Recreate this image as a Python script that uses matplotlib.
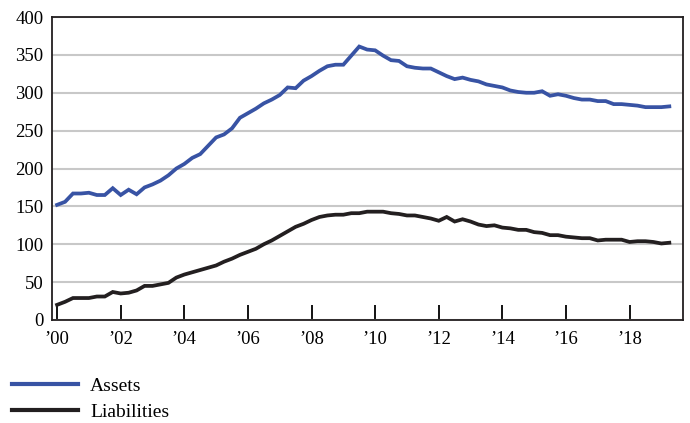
from matplotlib import pyplot as plt
import numpy as np

# quarterly data, 2000Q1 .. 2019Q2
start_year = 2000
assets = [152, 156, 167, 167, 168, 165, 165, 174, 165, 172,
          166, 175, 179, 184, 191, 200, 206, 214, 219, 230,
          241, 245, 253, 267, 273, 279, 286, 291, 297, 307,
          306, 316, 322, 329, 335, 337, 337, 349, 361, 357,
          356, 349, 343, 342, 335, 333, 332, 332, 327, 322,
          318, 320, 317, 315, 311, 309, 307, 303, 301, 300,
          300, 302, 296, 298, 296, 293, 291, 291, 289, 289,
          285, 285, 284, 283, 281, 281, 281, 282]
liabilities = [20, 24, 29, 29, 29, 31, 31, 37, 35, 36,
               39, 45, 45, 47, 49, 56, 60, 63, 66, 69,
               72, 77, 81, 86, 90, 94, 100, 105, 111, 117,
               123, 127, 132, 136, 138, 139, 139, 141, 141, 143,
               143, 143, 141, 140, 138, 138, 136, 134, 131, 136,
               130, 133, 130, 126, 124, 125, 122, 121, 119, 119,
               116, 115, 112, 112, 110, 109, 108, 108, 105, 106,
               106, 106, 103, 104, 104, 103, 101, 102]
xtick_years = list(range(2000, 2019, 2))
xtick_labels = ['\u2019%02d' % (y % 100) for y in xtick_years]
ytick_vals = list(range(0, 401, 50))

t = start_year + np.arange(len(assets)) / 4.0

plt.rcParams['font.family'] = ['Liberation Serif', 'DejaVu Serif']

fig = plt.figure(figsize=(6.9, 4.23), dpi=100)
ax = fig.add_axes([52/690, 1-320/423, (683-52)/690, (320-17)/423])

ax.plot(t, assets, color='#3853a4', lw=2.7, label='Assets', solid_joinstyle='miter', zorder=3)
ax.plot(t, liabilities, color='#231f20', lw=2.7, label='Liabilities', solid_joinstyle='miter', zorder=3)

ax.set_ylim(0, 400)
ax.set_xlim(1999.84, 2019.68)
ax.set_yticks(ytick_vals)
ax.set_xticks(xtick_years)
ax.set_xticklabels(xtick_labels)
ax.grid(axis='y', color='#c8c8c8', lw=1.5, zorder=0)
ax.set_axisbelow(True)
ax.tick_params(axis='y', length=0, pad=6, labelsize=13.5)
ax.tick_params(axis='x', direction='in', length=11, width=1.3, pad=8, labelsize=13.5)
for s in ax.spines.values():
    s.set_linewidth(1.3)
    s.set_color('#231f20')

leg = fig.legend(loc='upper left', bbox_to_anchor=(12/690, 1-377/423), frameon=False,
                 fontsize=14, handlelength=3.4, handletextpad=0.62, labelspacing=0.45,
                 borderpad=0, borderaxespad=0)
for h in leg.get_lines():
    h.set_linewidth(3.0)

fig.savefig('out.png', dpi=100)
